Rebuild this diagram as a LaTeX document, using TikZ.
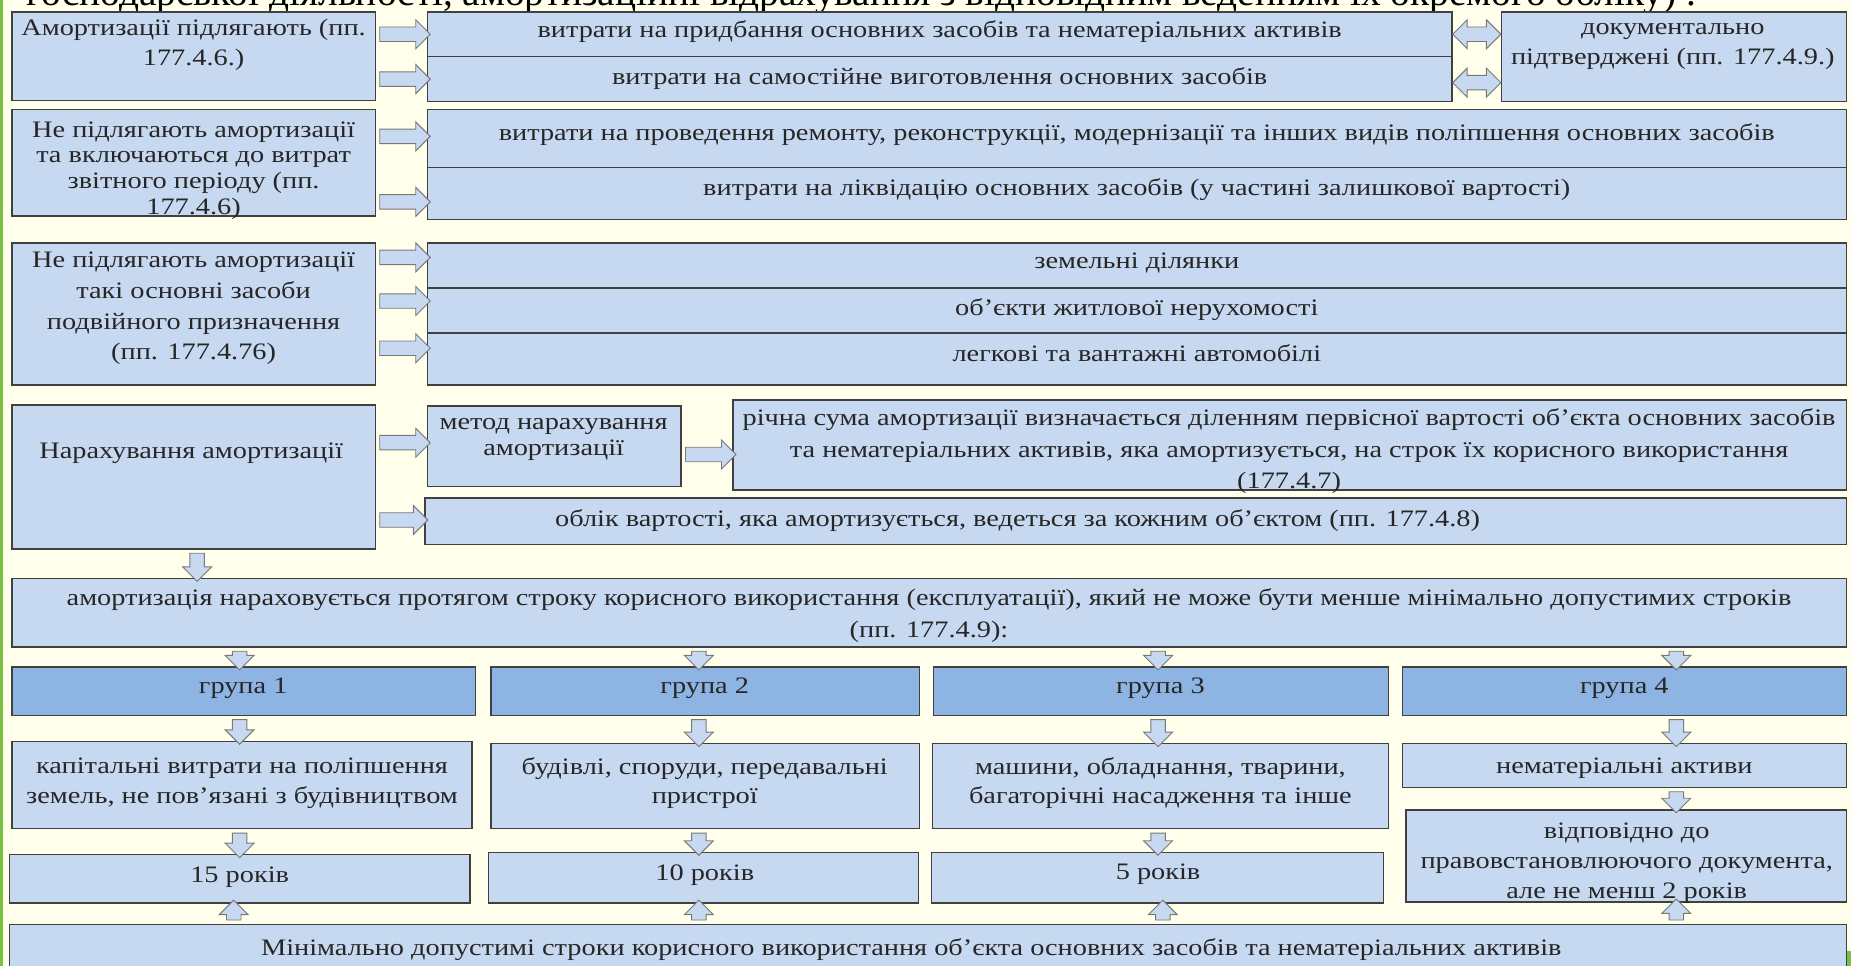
\documentclass[tikz,border=0pt]{standalone}
\usepackage{fontspec}
\setmainfont{Liberation Serif}[FakeStretch=1.2]
\newfontfamily\titlefont{Liberation Serif}
\usetikzlibrary{shapes.arrows,calc,fit}
\definecolor{bg}{RGB}{255,255,235}
\definecolor{boxfill}{RGB}{198,217,241}
\definecolor{grpfill}{RGB}{142,180,227}
\definecolor{boxline}{RGB}{64,64,64}
\definecolor{arrline}{RGB}{120,120,120}
\definecolor{framegreen}{RGB}{122,193,67}
\definecolor{txtc}{RGB}{38,38,38}
\tikzset{
  box/.style={draw=boxline, fill=boxfill, line width=0.9pt, inner sep=0pt},
  grp/.style={box, fill=grpfill},
  txt/.style={align=center, inner sep=0pt, text=txtc, yshift=-2.5pt, font=\fontsize{15}{19}\selectfont},
  barrow/.style={single arrow, draw=arrline, fill=boxfill, line width=0.6pt,
    inner xsep=0pt, inner ysep=4.3pt, single arrow head extend=4.6pt,
    single arrow head indent=0pt, single arrow tip angle=90, outer sep=0pt},
  darrow/.style={double arrow, draw=arrline, fill=boxfill, line width=0.6pt,
    inner xsep=0pt, inner ysep=4.3pt, double arrow head extend=4.6pt,
    double arrow head indent=0pt, double arrow tip angle=90, outer sep=0pt},
}
\newcommand{\conn}[3][barrow]{%
  \path let \p1=#2, \p2=#3, \n1={atan2(\y2-\y1,\x2-\x1)}, \n2={veclen(\x2-\x1,\y2-\y1)} in
  node[#1, minimum height=\n2, rotate=\n1] at ($(\p1)!0.5!(\p2)$) {};}
\begin{document}
\begin{tikzpicture}[x=0.75pt,y=-0.75pt]
\useasboundingbox (0,0) rectangle (1568,818);
\clip (0,0) rectangle (1568,818);
\fill[bg] (0,0) rectangle (1568,818);
\fill[framegreen] (0,0) rectangle (2.5,818);
\fill[framegreen] (1565,806) rectangle (1568,818);
\node[anchor=base west, inner sep=0pt, font=\titlefont\fontsize{25}{30}\selectfont] (title) at (22,5)
  {господарської діяльності, амортизаційні відрахування з відповідним веденням їх окремого обліку) .};

% row 1
\node[box, fit={(10,10)(318,85)}] (A1) {};
\node[box, fit={(362,10)(1230,48)}] (B1) {};
\node[box, fit={(362,48)(1230,86)}] (B2) {};
\node[box, fit={(1272,10)(1564,86)}] (C) {};
\node[txt] (A1t) at (164,35) {Амортизації підлягають (пп.\\177.4.6.)};
\node[txt] (B1t) at (796,23) {витрати на придбання основних засобів та нематеріальних активів};
\node[txt] (B2t) at (796,63) {витрати на самостійне виготовлення основних засобів};
\node[txt] (Ct) at (1417,36) {документально\\підтверджені (пп. 177.4.9.)};
\conn{(A1.east|-B1.west)}{(B1.west)}
\conn{(A1.east|-B2.west)}{(B2.west)}
\conn[darrow]{(B1.east)}{(C.west|-B1.east)}
\conn[darrow]{($(B2.east)+(0,3)$)}{($(C.west|-B2.east)+(0,3)$)}

% row 2
\node[box, fit={(10,93)(318,183)}] (A2) {};
\node[box, fit={(362,93)(1564,142)}] (B3) {};
\node[box, fit={(362,142)(1564,186)}] (B4) {};
\node[txt, font=\fontsize{15}{16.3}\selectfont] (A2t) at (164,141) {Не підлягають амортизації\\та включаються до витрат\\звітного періоду (пп.\\177.4.6)};
\node[txt] (B3t) at (963,111) {витрати на проведення ремонту, реконструкції, модернізації та інших видів поліпшення основних засобів};
\node[txt] (B4t) at (963,157) {витрати на ліквідацію основних засобів (у частині залишкової вартості)};
\conn{($(A2.east|-B3.west)+(0,-2)$)}{($(B3.west)+(0,-2)$)}
\conn{($(A2.east|-B4.west)+(0,7)$)}{($(B4.west)+(0,7)$)}

% row 3
\node[box, fit={(10,206)(318,326)}] (A3) {};
\node[box, fit={(362,206)(1564,244)}] (B5) {};
\node[box, fit={(362,244)(1564,282)}] (B6) {};
\node[box, fit={(362,282)(1564,326)}] (B7) {};
\node[txt, font=\fontsize{15}{19.5}\selectfont] (A3t) at (164,258) {Не підлягають амортизації\\такі основні засоби\\подвійного призначення\\(пп. 177.4.76)};
\node[txt] (B5t) at (963,219) {земельні ділянки};
\node[txt] (B6t) at (963,259) {об’єкти житлової нерухомості};
\node[txt] (B7t) at (963,296) {легкові та вантажні автомобілі};
\conn{($(A3.east|-B5.west)+(0,-7)$)}{($(B5.west)+(0,-7)$)}
\conn{($(A3.east|-B6.west)+(0,-8)$)}{($(B6.west)+(0,-8)$)}
\conn{($(A3.east|-B7.west)+(0,-9)$)}{($(B7.west)+(0,-9)$)}

% row 4
\node[box, fit={(10,343)(318,465)}] (A4) {};
\node[box, fit={(362,344)(577,412)}] (M) {};
\node[box, fit={(621,339)(1564,415)}] (R) {};
\node[box, fit={(360,422)(1564,461)}] (O) {};
\node[txt] (A4t) at (162,381) {Нарахування амортизації};
\node[txt, font=\fontsize{15}{16.5}\selectfont] (Mt) at (469,369) {метод нарахування\\амортизації};
\node[txt, font=\fontsize{15}{20}\selectfont] (Rt) at (1092,379) {річна сума амортизації визначається діленням первісної вартості об’єкта основних засобів\\та нематеріальних активів, яка амортизується, на строк їх корисного використання\\(177.4.7)};
\node[txt] (Ot) at (862,438) {облік вартості, яка амортизується, ведеться за кожним об’єктом (пп. 177.4.8)};
\conn{($(A4.east|-M.west)+(0,-3)$)}{($(M.west)+(0,-3)$)}
\conn{($(M.east)+(0,7)$)}{($(R.west|-M.east)+(0,7)$)}
\conn{($(A4.east|-O.west)+(0,-1)$)}{($(O.west)+(0,-1)$)}

% row 5
\node[box, fit={(10,490)(1564,548)}] (D) {};
\node[txt, font=\fontsize{15}{20}\selectfont] (Dt) at (787,518) {амортизація нараховується протягом строку корисного використання (експлуатації), який не може бути менше мінімально допустимих строків\\(пп. 177.4.9):};
\conn{($(A4.south)+(3,0)$)}{($(A4.south|-D.north)+(3,0)$)}

% columns
\coordinate (c1) at (203,0);
\coordinate (c2) at (592,0);
\coordinate (c3) at (981,0);
\coordinate (c4) at (1420,0);

% groups
\node[grp, fit={(10,565)(403,606)}] (G1) {};
\node[grp, fit={(416,565)(779,606)}] (G2) {};
\node[grp, fit={(791,565)(1176,606)}] (G3) {};
\node[grp, fit={(1188,565)(1564,606)}] (G4) {};
\node[txt] (G1t) at (206,580) {група 1};
\node[txt] (G2t) at (597,580) {група 2};
\node[txt] (G3t) at (983,580) {група 3};
\node[txt] (G4t) at (1376,580) {група 4};
\conn{(D.south-|c1)}{(G1.north-|c1)}
\conn{(D.south-|c2)}{(G2.north-|c2)}
\conn{(D.south-|c3)}{(G3.north-|c3)}
\conn{(D.south-|c4)}{(G4.north-|c4)}

% items
\node[box, fit={(10,628)(400,702)}] (K1) {};
\node[box, fit={(416,630)(779,702)}] (K2) {};
\node[box, fit={(790,630)(1176,702)}] (K3) {};
\node[box, fit={(1188,630)(1564,667)}] (K4) {};
\node[txt] (K1t) at (205,660) {капітальні витрати на поліпшення\\земель, не пов’язані з будівництвом};
\node[txt] (K2t) at (597,660) {будівлі, споруди, передавальні\\пристрої};
\node[txt] (K3t) at (983,660) {машини, обладнання, тварини,\\багаторічні насадження та інше};
\node[txt] (K4t) at (1376,647) {нематеріальні активи};
\conn{(G1.south-|c1)}{(K1.north-|c1)}
\conn{(G2.south-|c2)}{(K2.north-|c2)}
\conn{(G3.south-|c3)}{(K3.north-|c3)}
\conn{(G4.south-|c4)}{(K4.north-|c4)}

% years
\node[box, fit={(8,724)(398,765)}] (Y1) {};
\node[box, fit={(414,722)(778,765)}] (Y2) {};
\node[box, fit={(789,722)(1172,765)}] (Y3) {};
\node[box, fit={(1191,686)(1564,764)}] (Y4) {};
\node[txt] (Y1t) at (203,740) {15 років};
\node[txt] (Y2t) at (597,738) {10 років};
\node[txt] (Y3t) at (981,737) {5 років};
\node[txt] (Y4t) at (1378,728) {відповідно до\\правовстановлюючого документа,\\але не менш 2 років};
\conn{(K1.south-|c1)}{(Y1.north-|c1)}
\conn{(K2.south-|c2)}{(Y2.north-|c2)}
\conn{(K3.south-|c3)}{(Y3.north-|c3)}
\conn{(K4.south-|c4)}{(Y4.north-|c4)}

% bottom
\node[box, fit={(8,783)(1564,835)}] (Z) {};
\node[txt] (Zt) at (772,801) {Мінімально допустимі строки корисного використання об’єкта основних засобів та нематеріальних активів};
\conn{($(Z.north-|c1)+(-5,0)$)}{($(Y1.south-|c1)+(-5,0)$)}
\conn{(Z.north-|c2)}{(Y2.south-|c2)}
\conn{($(Z.north-|c3)+(4,0)$)}{($(Y3.south-|c3)+(4,0)$)}
\conn{(Z.north-|c4)}{(Y4.south-|c4)}
\end{tikzpicture}
\end{document}
